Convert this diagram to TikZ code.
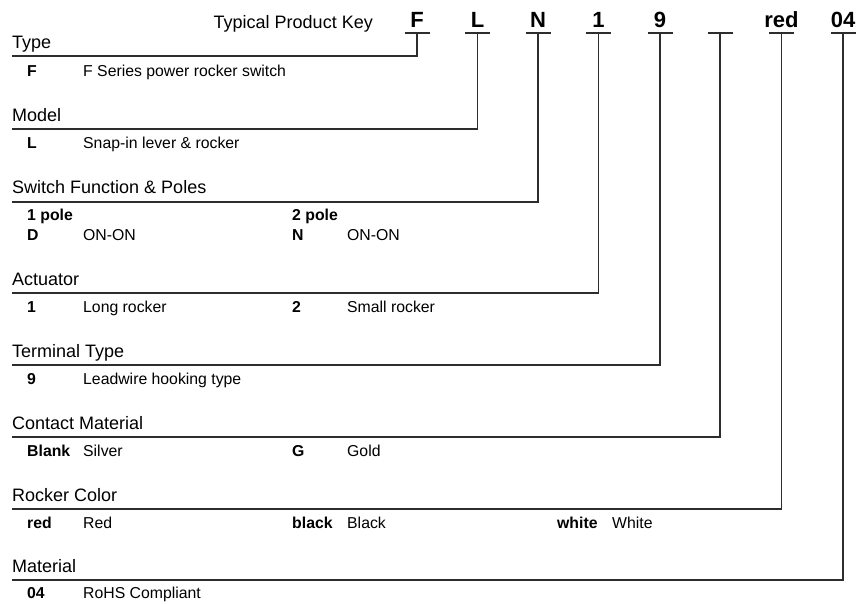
\documentclass[tikz,border=0pt]{standalone}
\usepackage{fontspec}
\setmainfont{Liberation Sans}
\usetikzlibrary{positioning}
\usetikzlibrary{calc}
\definecolor{ruleGray}{RGB}{45,45,45}

\begin{document}
\begin{tikzpicture}[x=1pt,y=-1pt,
  keyLetter/.style={font=\fontsize{22}{22}\selectfont\bfseries, inner xsep=0pt, inner ysep=5pt, text depth=0pt, anchor=south},
  heading/.style={font=\fontsize{18}{18}\selectfont, inner sep=0pt, anchor=base west},
  code/.style={font=\fontsize{15.8}{16}\selectfont\bfseries, inner sep=0pt, anchor=base west},
  desc/.style={font=\fontsize{15.8}{16}\selectfont, inner sep=0pt, anchor=base west},
  keyRule/.style={ruleGray, line width=1.3pt},
]
\useasboundingbox (0,0) rectangle (859,603);
\newcommand\Bar[1]{([xshift=-12.5pt]#1.south) -- ([xshift=12.5pt]#1.south)}

% product key
\node (title) [font=\fontsize{18}{18}\selectfont, inner sep=0pt, anchor=base east] at (373,28) {Typical Product Key};
\node (kF) [keyLetter] at (417,33) {F};
\node (kL) [keyLetter] at (477.5,33) {L};
\node (kN) [keyLetter] at (538,33) {N};
\node (kOne) [keyLetter] at (598.5,33) {1};
\node (kNine) [keyLetter] at (660,33) {9};
\node (kBlank) [keyLetter] at (720,33) {};
\node (kRed) [keyLetter] at (781.5,33) {red};
\node (kMat) [keyLetter] at (843,33) {04};

\draw [keyRule] \Bar{kF};
\draw [keyRule] \Bar{kL};
\draw [keyRule] \Bar{kN};
\draw [keyRule] \Bar{kOne};
\draw [keyRule] \Bar{kNine};
\draw [keyRule] \Bar{kBlank};
\draw [keyRule] \Bar{kRed};
\draw [keyRule] \Bar{kMat};

% section rules
\coordinate (lType) at (12,56);
\coordinate (lModel) at (12,129);
\coordinate (lPoles) at (12,202);
\coordinate (lAct) at (12,293);
\coordinate (lTerm) at (12,365);
\coordinate (lContact) at (12,437);
\coordinate (lColor) at (12,509);
\coordinate (lMat) at (12,580);

\draw [keyRule] (kF.south) |- (lType);
\draw [keyRule] (kL.south) |- (lModel);
\draw [keyRule] (kN.south) |- (lPoles);
\draw [keyRule] (kOne.south) |- (lAct);
\draw [keyRule] (kNine.south) |- (lTerm);
\draw [keyRule] (kBlank.south) |- (lContact);
\draw [keyRule] (kRed.south) |- (lColor);
\draw [keyRule] (kMat.south) |- (lMat);

% Type
\node (hType) [heading] at (12,48) {Type};
\node (cF) [code] at (27,76) {F};
\node (dF) [desc] at (83,76) {F Series power rocker switch};

% Model
\node (hModel) [heading] at (12,121) {Model};
\node (cL) [code] at (27,148) {L};
\node (dL) [desc] at (83,148) {Snap-in lever \& rocker};

% Switch Function & Poles
\node (hPoles) [heading] at (12,193) {Switch Function \& Poles};
\node (pOne) [code] at (27,220) {1 pole};
\node (cD) [code] at (27,240) {D};
\node (dD) [desc] at (83,240) {ON-ON};
\node (pTwo) [code] at (292,220) {2 pole};
\node (cN) [code] at (292,240) {N};
\node (dN) [desc] at (347,240) {ON-ON};

% Actuator
\node (hAct) [heading] at (12,285) {Actuator};
\node (cOne) [code] at (27,312) {1};
\node (dOne) [desc] at (83,312) {Long rocker};
\node (cTwo) [code] at (292,312) {2};
\node (dTwo) [desc] at (347,312) {Small rocker};

% Terminal Type
\node (hTerm) [heading] at (12,357) {Terminal Type};
\node (cNine) [code] at (27,384) {9};
\node (dNine) [desc] at (83,384) {Leadwire hooking type};

% Contact Material
\node (hContact) [heading] at (12,429) {Contact Material};
\node (cBlank) [code] at (27,456) {Blank};
\node (dBlank) [desc] at (83,456) {Silver};
\node (cG) [code] at (292,456) {G};
\node (dG) [desc] at (347,456) {Gold};

% Rocker Color
\node (hColor) [heading] at (12,501) {Rocker Color};
\node (cRed) [code] at (27,528) {red};
\node (dRed) [desc] at (83,528) {Red};
\node (cBlack) [code] at (292,528) {black};
\node (dBlack) [desc] at (347,528) {Black};
\node (cWhite) [code] at (557,528) {white};
\node (dWhite) [desc] at (612,528) {White};

% Material
\node (hMat) [heading] at (12,572) {Material};
\node (cMat) [code] at (27,598) {04};
\node (dMat) [desc] at (83,598) {RoHS Compliant};
\end{tikzpicture}
\end{document}
